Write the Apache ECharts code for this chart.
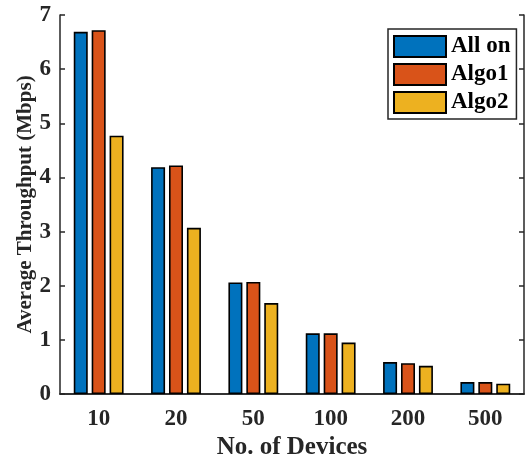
<!DOCTYPE html>
<html>
<head>
<meta charset="utf-8">
<script src="https://cdn.jsdelivr.net/npm/echarts@6/dist/echarts.min.js"></script>
<style>
  html, body { margin: 0; padding: 0; background: #fff; }
  #chart { width: 530px; height: 459px; }
</style>
</head>
<body>
<div id="chart"></div>
<script>
const devices = ['10', '20', '50', '100', '200', '500']
const allOn = [6.69, 4.19, 2.06, 1.12, 0.59, 0.22]
const algo1 = [6.72, 4.22, 2.07, 1.12, 0.57, 0.22]
const algo2 = [4.77, 3.07, 1.68, 0.95, 0.52, 0.19]

const font = 'Liberation Serif'
const axisColor = '#262626'

const chart = echarts.init(document.getElementById('chart'))

function bar(name, data, color) {
  return {
    name: name,
    type: 'bar',
    data: data,
    barWidth: 14,
    barGap: '28%',
    itemStyle: {
      color: color,
      borderColor: '#000',
      borderWidth: 1.6,
    },
  }
}

chart.setOption({
  animation: false,
  textStyle: { fontFamily: font },
  grid: {
    left: 60,
    right: 6,
    top: 15,
    bottom: 65,
    outerBoundsMode: 'none',
  },
  legend: {
    orient: 'vertical',
    left: 388,
    top: 29,
    itemWidth: 52,
    itemHeight: 21,
    itemGap: 5,
    padding: [6, 6, 5, 5],
    backgroundColor: '#fff',
    borderColor: axisColor,
    borderWidth: 1.5,
    icon: 'rect',
    textStyle: {
      fontFamily: font,
      fontWeight: 'bold',
      fontSize: 23,
      lineHeight: 21,
      color: '#000',
    },
  },
  xAxis: [
    {
      type: 'category',
      data: devices,
      name: 'No. of Devices',
      nameLocation: 'middle',
      nameGap: 41,
      nameMoveOverlap: false,
      nameTextStyle: { fontFamily: font, fontWeight: 'bold', fontSize: 25, color: axisColor },
      axisLine: { lineStyle: { color: axisColor, width: 1.5 } },
      axisTick: { inside: true, alignWithLabel: true, length: 5, lineStyle: { color: axisColor, width: 1.5 } },
      axisLabel: { fontFamily: font, fontWeight: 'bold', fontSize: 23, color: axisColor, margin: 14 },
    },
    {
      type: 'category',
      data: devices,
      position: 'top',
      axisLine: { lineStyle: { color: axisColor, width: 1.5 } },
      axisTick: { inside: true, alignWithLabel: true, length: 5, lineStyle: { color: axisColor, width: 1.5 } },
      axisLabel: { show: false },
    },
  ],
  yAxis: [
    {
      type: 'value',
      min: 0,
      max: 7,
      interval: 1,
      name: 'Average Throughput (Mbps)',
      nameLocation: 'middle',
      nameGap: 24,
      nameMoveOverlap: false,
      nameTextStyle: { fontFamily: font, fontWeight: 'bold', fontSize: 21, color: axisColor },
      splitLine: { show: false },
      axisLine: { show: true, lineStyle: { color: axisColor, width: 1.5 } },
      axisTick: { show: true, inside: true, length: 5, lineStyle: { color: axisColor, width: 1.5 } },
      axisLabel: { fontFamily: font, fontWeight: 'bold', fontSize: 23, color: axisColor, margin: 9 },
    },
    {
      type: 'value',
      min: 0,
      max: 7,
      interval: 1,
      position: 'right',
      splitLine: { show: false },
      axisLine: { show: true, lineStyle: { color: axisColor, width: 1.5 } },
      axisTick: { show: true, inside: true, length: 5, lineStyle: { color: axisColor, width: 1.5 } },
      axisLabel: { show: false },
    },
  ],
  series: [
    bar('All on', allOn, '#0072BD'),
    bar('Algo1', algo1, '#D95319'),
    bar('Algo2', algo2, '#EDB120'),
  ],
})
</script>
</body>
</html>
